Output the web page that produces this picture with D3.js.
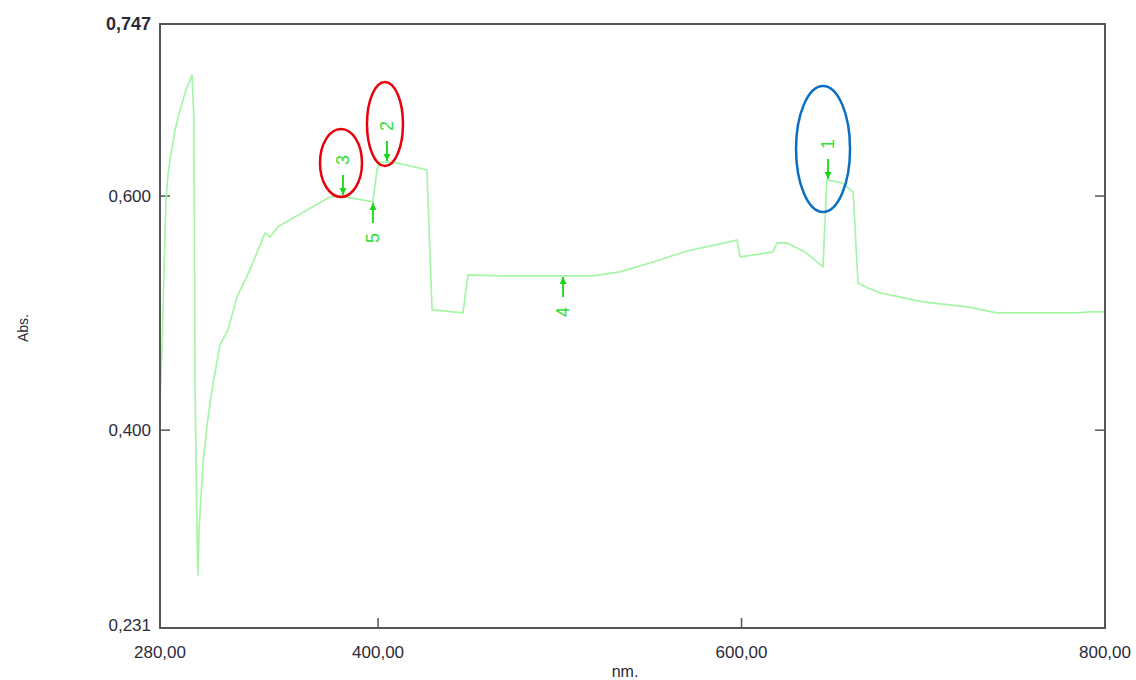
<!DOCTYPE html>
<html>
<head>
<meta charset="utf-8">
<script src="https://cdn.jsdelivr.net/npm/d3@7"></script>
<style>
  body { margin: 0; background: #fff; }
  text { font-family: "Liberation Sans", Arial, sans-serif; }
</style>
</head>
<body>
<div id="chart"></div>
<script>
var width = 1136,
    height = 680;

var margin = {top: 24, right: 31, bottom: 52, left: 160};

// spectrum (nm, Abs.)
var wavelength = [280, 280.55, 281.1, 282.2, 283.3, 284.4, 285.5, 288.3, 291.0, 294.3, 297.6, 298.7, 299.3,
    300.4, 300.9, 301.5, 303.7, 305.9, 308.6, 313.0, 317.4, 322.4, 329.5, 337.8, 340.5, 344.9, 373.5,
    379.1, 397.2, 399.4, 401.1, 410.4, 426.9, 429.7, 446.7, 449.5, 467.1, 518.3, 533.1, 551.3, 570.0,
    588.2, 597.5, 599.2, 617.3, 619.5, 625.0, 634.9, 644.8, 647.0, 655.3, 661.4, 664.1, 669.6, 676.2,
    699.9, 724.1, 740.6, 784.6, 791.8, 800];
var absorbance = [0.424, 0.4472, 0.4685, 0.5369, 0.5967, 0.618, 0.6309, 0.6565, 0.6736, 0.6906, 0.7034, 0.665, 0.4344,
    0.309, 0.2764, 0.3149, 0.372, 0.4045, 0.4344, 0.4729, 0.4857, 0.5139, 0.5369, 0.5685, 0.5651, 0.5737, 0.5993,
    0.6001, 0.595, 0.6223, 0.6291, 0.6283, 0.6223, 0.5028, 0.5002, 0.5326, 0.5318, 0.5318, 0.5352, 0.5437, 0.5531,
    0.5591, 0.5625, 0.548, 0.5523, 0.560, 0.560, 0.5523, 0.5395, 0.6138, 0.6112, 0.6035, 0.5258, 0.5215, 0.5173,
    0.5096, 0.5053, 0.5002, 0.5002, 0.501, 0.501];

// picked peaks (down arrows) and valleys (up arrows)
var pickLabels = ["1", "2", "3", "4", "5"];
var pickNm = [647.6, 404.9, 380.7, 501.8, 397.2];
var pickAbs = [0.6138, 0.6291, 0.6001, 0.5318, 0.595];
var pickKind = ["peak", "peak", "peak", "valley", "valley"];

// highlight ellipses: which pick, colour
var circled = [2, 1, 0];
var circleColor = ["#e8000b", "#e8000b", "#0a6fc2"];

var yTicks = [0.747, 0.6, 0.4, 0.231];
var xTicks = [280, 400, 600, 800];

var svg = d3.select("#chart").append("svg")
    .attr("width", width)
    .attr("height", height);

var w = width - margin.left - margin.right,
    h = height - margin.top - margin.bottom;

var x = d3.scaleLinear().domain([280, 800]).range([margin.left, margin.left + w]);
var y = d3.scaleLinear().domain([0.231, 0.747]).range([margin.top + h, margin.top]);

var fmtY = function(d){ return d3.format(".3f")(d).replace(".", ","); };
var fmtX = function(d){ return d3.format(".2f")(d).replace(".", ","); };

// ticks, inward
var tickLen = 10;
yTicks.slice(1, 3).forEach(function(t){
    svg.append("line").attr("x1", x(280)).attr("x2", x(280) + tickLen)
        .attr("y1", y(t)).attr("y2", y(t)).attr("stroke", "#555").attr("stroke-width", 1.5);
    svg.append("line").attr("x1", x(800)).attr("x2", x(800) - tickLen)
        .attr("y1", y(t)).attr("y2", y(t)).attr("stroke", "#555").attr("stroke-width", 1.5);
});
xTicks.slice(1, 3).forEach(function(t){
    svg.append("line").attr("x1", x(t)).attr("x2", x(t))
        .attr("y1", y(0.231)).attr("y2", y(0.231) - tickLen).attr("stroke", "#555").attr("stroke-width", 1.5);
});

// y tick labels
svg.selectAll(".ylab").data(yTicks).enter().append("text")
    .attr("class", "ylab")
    .attr("x", margin.left - 9)
    .attr("y", function(d){ return y(d); })
    .attr("dy", function(d, i){ return i == 0 ? "0.35em" : (i == yTicks.length - 1 ? "0.15em" : "0.35em"); })
    .attr("text-anchor", "end")
    .attr("font-size", function(d, i){ return i == 0 ? 18 : 17; })
    .attr("font-weight", function(d, i){ return i == 0 ? "bold" : "normal"; })
    .attr("fill", "#2b2b3a")
    .text(fmtY);

// x tick labels
svg.selectAll(".xlab").data(xTicks).enter().append("text")
    .attr("class", "xlab")
    .attr("x", function(d){ return x(d); })
    .attr("y", y(0.231) + 30)
    .attr("text-anchor", "middle")
    .attr("font-size", 17)
    .attr("fill", "#2b2b3a")
    .text(fmtX);

svg.append("text")
    .attr("transform", "translate(28," + (margin.top + h / 2 + 2) + ") rotate(-90)")
    .attr("text-anchor", "middle")
    .attr("font-size", 14)
    .attr("fill", "#2b2b3a")
    .text("Abs.");

svg.append("text")
    .attr("x", 625).attr("y", 677)
    .attr("text-anchor", "middle")
    .attr("font-size", 16)
    .attr("fill", "#2b2b3a")
    .text("nm.");

// spectrum
var line = d3.line()
    .x(function(d){ return x(d[0]); })
    .y(function(d){ return y(d[1]); });

svg.append("path")
    .datum(d3.zip(wavelength, absorbance))
    .attr("d", line)
    .attr("fill", "none")
    .attr("stroke", "#a6f5a6")
    .attr("stroke-width", 1.7)
    .attr("stroke-linejoin", "round");

// frame
svg.append("rect")
    .attr("x", margin.left).attr("y", margin.top)
    .attr("width", w).attr("height", h)
    .attr("fill", "none")
    .attr("stroke", "#555")
    .attr("stroke-width", 2);

// pick arrows + labels
svg.append("defs").append("marker")
    .attr("id", "head")
    .attr("viewBox", "0 0 10 10")
    .attr("refX", 10).attr("refY", 5)
    .attr("markerWidth", 7).attr("markerHeight", 8)
    .attr("markerUnits", "userSpaceOnUse")
    .attr("orient", "auto")
    .append("path").attr("d", "M0,0 L10,5 L0,10 Z").attr("fill", "#19d619");

pickNm.forEach(function(nm, i){
    var px = x(nm), py = y(pickAbs[i]);
    var dir = pickKind[i] == "peak" ? -1 : 1;
    svg.append("line")
        .attr("x1", px).attr("x2", px)
        .attr("y1", py + dir * 21).attr("y2", py + dir * 1)
        .attr("stroke", "#19d619").attr("stroke-width", 1.8)
        .attr("marker-end", "url(#head)");
    svg.append("text")
        .attr("transform", "translate(" + (px + 6) + "," + (py + dir * 36) + ") rotate(-90)")
        .attr("text-anchor", "middle")
        .attr("font-size", 18)
        .attr("fill", "#33dd33")
        .text(pickLabels[i]);
});

// annotation ellipses
var ellipseSize = [[21, 34], [18, 42], [27, 63]];
var ellipseShift = [[-2, -33], [-2, -38], [-5, -31]];
circled.forEach(function(p, i){
    svg.append("ellipse")
        .attr("cx", x(pickNm[p]) + ellipseShift[i][0])
        .attr("cy", y(pickAbs[p]) + ellipseShift[i][1])
        .attr("rx", ellipseSize[i][0])
        .attr("ry", ellipseSize[i][1])
        .attr("fill", "none")
        .attr("stroke", circleColor[i])
        .attr("stroke-width", 2.5);
});
</script>
</body>
</html>
